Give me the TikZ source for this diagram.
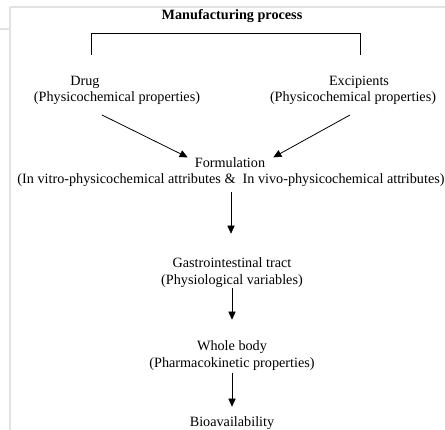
\documentclass[tikz,border=0pt]{standalone}
\usepackage{fontspec}
\setmainfont{Liberation Serif}
\definecolor{frame}{HTML}{E2E2E2}
\tikzset{
  lbl/.style={inner sep=0pt, font=\fontsize{14.2}{17}\selectfont},
  arrline/.style={line width=0.8pt},
  arrtip/.style={draw=black, fill=black, line width=0.6pt, line join=miter},
  brk/.style={line width=0.8pt},
  frm/.style={draw=frame, line width=2pt}
}
\begin{document}
\begin{tikzpicture}[x=1pt,y=1pt]
\useasboundingbox (0,0) rectangle (445,430);
% frame
\draw[frm] (9.5,422.5) -- (446,422.5);
\draw[frm] (9.5,423) -- (9.5,-1);
\draw[frm] (-1,400.5) -- (9.5,400.5);
% title and bracket
\node[lbl, font=\fontsize{14.2}{17}\selectfont\bfseries] (title) at (232,414) {Manufacturing process};
\coordinate (bl) at (91,375);
\coordinate (br) at (360,375);
\draw[brk] (bl) -- (91,397) -- (360,397) -- (br);
% nodes
\node[lbl] (drug) at (85,348) {Drug};
\node[lbl] (drugp) at (117,332) {(Physicochemical properties)};
\node[lbl] (exc) at (359,348) {Excipients};
\node[lbl] (excp) at (353,332) {(Physicochemical properties)};
\node[lbl] (form) at (230,267) {Formulation};
\node[lbl] (formp) at (231,250) {(In vitro-physicochemical attributes \&\ \ In vivo-physicochemical attributes)};
\node[lbl] (git) at (232,167) {Gastrointestinal tract};
\node[lbl] (gitp) at (232,149) {(Physiological variables)};
\node[lbl] (wb) at (232,83) {Whole body};
\node[lbl] (wbp) at (232,66) {(Pharmacokinetic properties)};
\node[lbl] (bio) at (232,7) {Bioavailability};
% connectors
\coordinate (aas) at (102,315);
\coordinate (aae) at (187,273);
\coordinate (aab) at (180.7,276.1);
\draw[arrline] (aas) -- (aab);
\path[arrtip] (aae) -- (182.2,279.1) -- (179.2,273.1) -- cycle;
\coordinate (abs) at (350,315);
\coordinate (abe) at (274,273);
\coordinate (abb) at (280.1,276.4);
\draw[arrline] (abs) -- (abb);
\path[arrtip] (abe) -- (281.7,273.5) -- (278.5,279.3) -- cycle;
\coordinate (das) at (231,238);
\coordinate (dae) at (231,197);
\draw[arrline] (das) -- (231,204);
\path[arrtip] (dae) -- (227.8,204) -- (234.2,204) -- cycle;
\coordinate (dbs) at (232,142);
\coordinate (dbe) at (232,111);
\draw[arrline] (dbs) -- (232,118);
\path[arrtip] (dbe) -- (228.8,118) -- (235.2,118) -- cycle;
\coordinate (dcs) at (232,57);
\coordinate (dce) at (232,24);
\draw[arrline] (dcs) -- (232,31);
\path[arrtip] (dce) -- (228.8,31) -- (235.2,31) -- cycle;
\end{tikzpicture}
\end{document}
